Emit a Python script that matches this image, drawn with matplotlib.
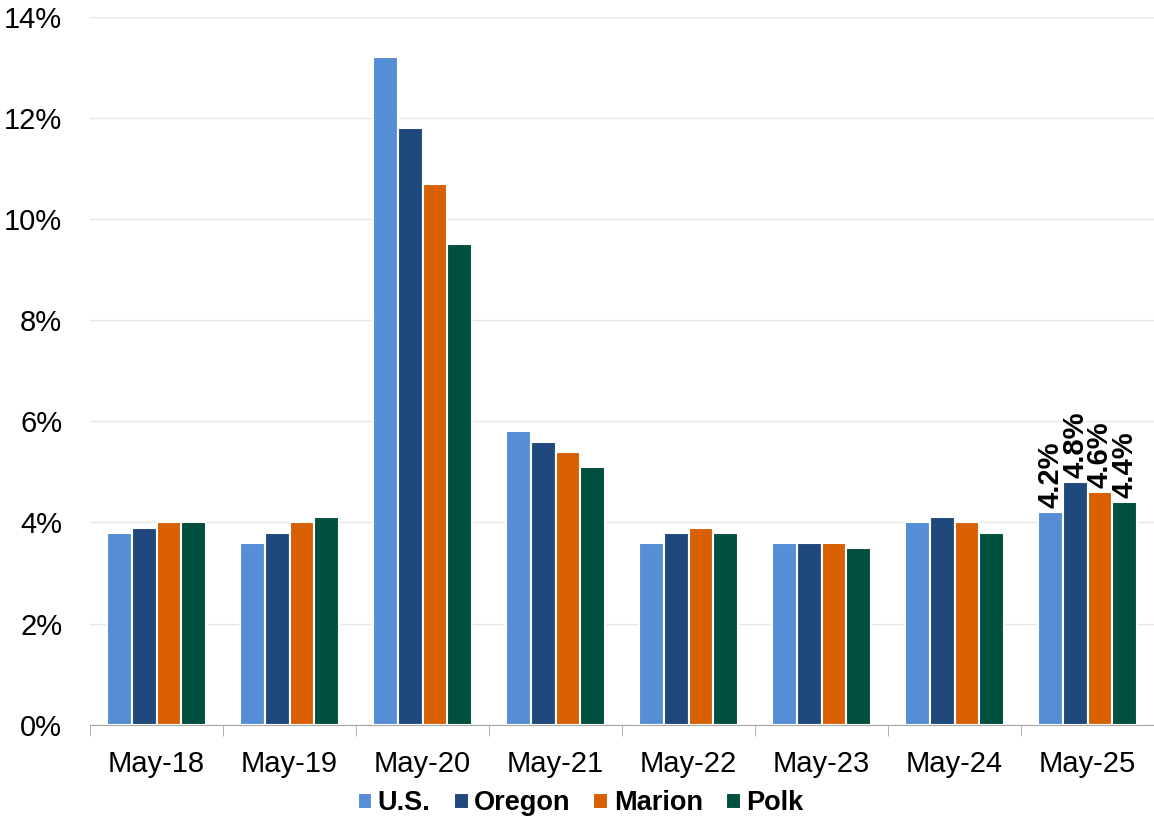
import matplotlib.pyplot as plt
import numpy as np

plt.rcParams['font.family'] = ['Liberation Sans', 'DejaVu Sans']

# dados
meses = ["May-18", "May-19", "May-20", "May-21", "May-22", "May-23", "May-24", "May-25"]
us = [3.8, 3.6, 13.2, 5.8, 3.6, 3.6, 4.0, 4.2]
oregon = [3.9, 3.8, 11.8, 5.6, 3.8, 3.6, 4.1, 4.8]
marion = [4.0, 4.0, 10.7, 5.4, 3.9, 3.6, 4.0, 4.6]
polk = [4.0, 4.1, 9.5, 5.1, 3.8, 3.5, 3.8, 4.4]

series = [("U.S.", us, "#558ED5"), ("Oregon", oregon, "#1F497D"),
          ("Marion", marion, "#D86000"), ("Polk", polk, "#00503F")]

fig = plt.figure(figsize=(11.54, 8.35), dpi=100)
ax = fig.add_axes([0.078, 0.132, 0.922, 0.848])

x = np.arange(len(meses))
w = 0.1875
for i, (nome, vals, cor) in enumerate(series):
    pos = x + (i - 1.5) * w
    ax.bar(pos, vals, w, color=cor, edgecolor="white", linewidth=1.5, label=nome, zorder=3)
    # rótulo só no último mês
    ax.text(pos[-1], vals[-1] + 0.08, f"{vals[-1]:.1f}%", rotation=90, ha="center", va="bottom",
            fontsize=21, fontweight="bold")

ax.set_xlim(-0.5, len(meses) - 0.5)
ax.set_ylim(0, 14)
ax.set_yticks(np.arange(0, 15, 2))
ax.set_yticklabels([f"{v}%" for v in range(0, 15, 2)], fontsize=21)
ax.yaxis.grid(True, color="#E6E6E6", linewidth=1, zorder=0)
ax.tick_params(axis="y", length=0, pad=20)

ax.set_xticks(x)
ax.set_xticklabels(meses, fontsize=21)
ax.set_xticks(np.arange(-0.5, len(meses)), minor=True)
ax.tick_params(axis="x", which="major", length=0, pad=18)
ax.tick_params(axis="x", which="minor", length=8, color="#A6A6A6")

for s in ["top", "right", "left"]:
    ax.spines[s].set_visible(False)
ax.spines["bottom"].set_color("#A6A6A6")

fig.legend(loc="center", bbox_to_anchor=(0.503, 0.038), ncol=4, frameon=False,
           prop={"weight": "bold", "size": 19.5}, handlelength=0.55, handleheight=0.55,
           handletextpad=0.2, columnspacing=0.85)

plt.savefig("out.png", dpi=100)
